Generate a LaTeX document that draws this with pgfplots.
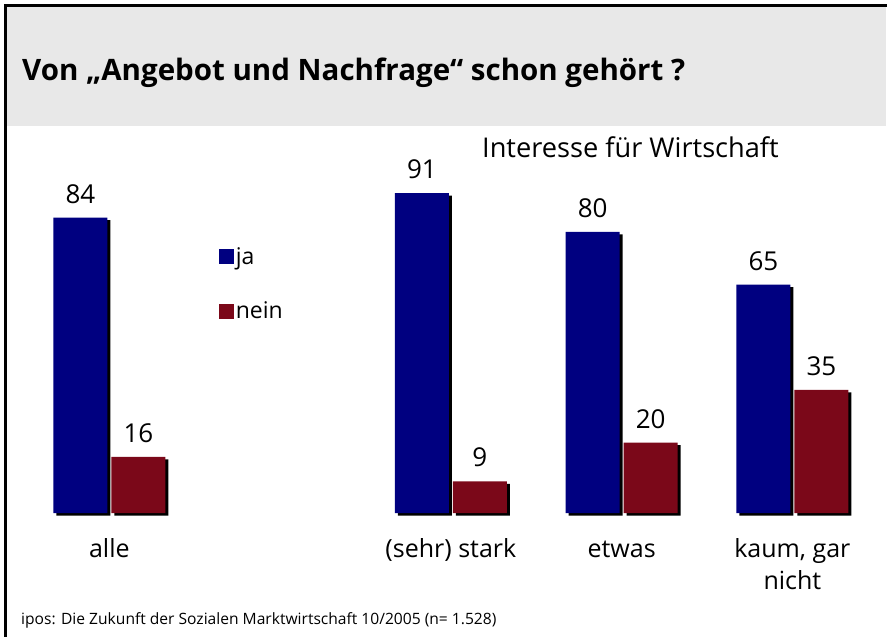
\documentclass[border=0pt]{standalone}
\usepackage{pgfplots}
\pgfplotsset{compat=1.18}
\usepackage{fontspec}
\setmainfont{Open Sans}
\definecolor{jablue}{HTML}{000080}
\definecolor{neinred}{HTML}{7B0819}
\definecolor{band}{HTML}{E8E8E8}
\begin{document}
\begin{tikzpicture}
\useasboundingbox (0,0) rectangle (887pt,-637pt);
\fill[band] (7pt,-7pt) rectangle (886pt,-126pt);
\draw[line width=2.4pt] (5.5pt,-637pt) -- (5.5pt,-5.5pt) -- (887pt,-5.5pt);
\node[anchor=base west, inner sep=0pt, font=\fontsize{29.5}{34}\selectfont\bfseries] at (22pt,-80pt) {Von „Angebot und Nachfrage“ schon gehört ?};
\node[anchor=base, inner sep=0pt, font=\fontsize{27.2}{32}\selectfont] at (630.5pt,-157pt) {Interesse für Wirtschaft};
\node[anchor=base west, inner sep=0pt, font=\fontsize{15.6}{18}\selectfont] at (21pt,-624pt) {ipos: Die Zukunft der Sozialen Marktwirtschaft 10/2005 (n= 1.528)};
\begin{axis}[
  at={(24pt,-513pt)}, anchor=south west,
  scale only axis, width=853.75pt, height=351.5pt,
  xmin=-0.5, xmax=4.5, ymin=0, ymax=100,
  clip=false,
  ybar, bar width=54pt,
  /pgf/number format/assume math mode=true,
  axis line style={draw=none}, tick style={draw=none},
  ytick=\empty,
  xtick={0,2,3,4},
  xticklabels={\strut alle,\strut (sehr) stark,\strut etwas,{\strut kaum, gar\\nicht}},
  xticklabel style={align=center, anchor=north, inner sep=0pt, yshift=-17pt,
    font=\fontsize{25}{32.5}\selectfont},
  every node near coord/.append style={font=\fontsize{26}{30}\selectfont, inner sep=0pt, anchor=south, yshift=14pt},
  legend style={at={(axis description cs:0.228,0.761)}, anchor=north west, draw=none, fill=none,
    font=\fontsize{23}{27}\selectfont, row sep=32pt, inner sep=0pt,
    nodes={inner sep=2pt}},
  legend cell align=left,
  legend image code/.code={\fill[#1,draw=none] (0pt,-7.5pt) rectangle (15pt,7.5pt);},
]
\addplot[fill=black, draw=none, bar shift=-29pt, xshift=3pt, yshift=-2.5pt, forget plot] coordinates {(0,84) (2,91) (3,80) (4,65)};
\addplot[fill=black, draw=none, bar shift=29pt, xshift=3pt, yshift=-2.5pt, forget plot] coordinates {(0,16) (2,9) (3,20) (4,35)};
\addplot[fill=jablue, draw=none, bar shift=-29pt, nodes near coords] coordinates {(0,84) (2,91) (3,80) (4,65)};
\addplot[fill=neinred, draw=none, bar shift=29pt, nodes near coords] coordinates {(0,16) (2,9) (3,20) (4,35)};
\legend{ja,nein}
\end{axis}
\end{tikzpicture}
\end{document}
